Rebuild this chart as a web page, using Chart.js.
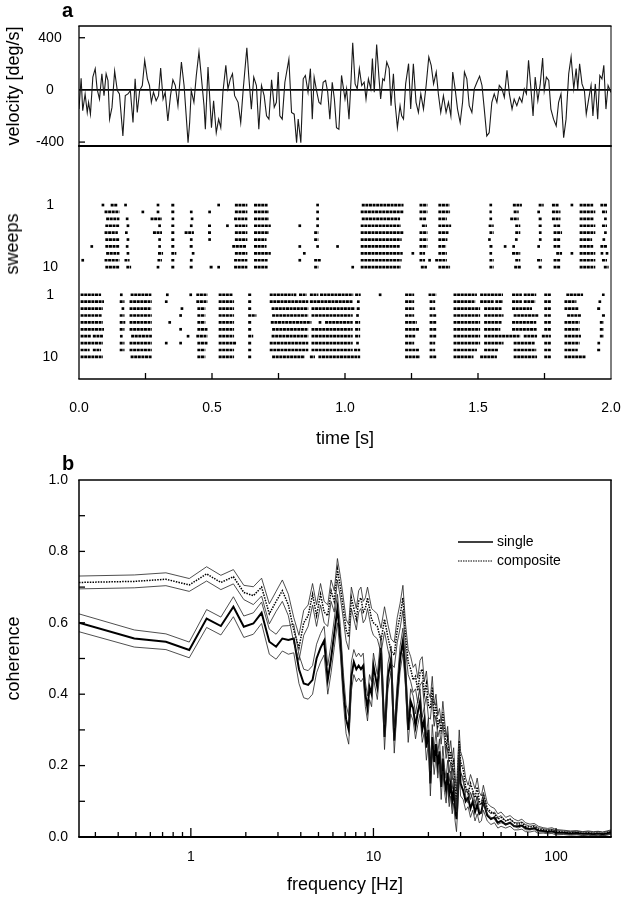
<!DOCTYPE html>
<html>
<head>
<meta charset="utf-8">
<script src="https://cdn.jsdelivr.net/npm/chart.js@4.4.1/dist/chart.umd.min.js"></script>
<style>
  html, body { margin: 0; padding: 0; background: #fff; }
  #fig { position: relative; width: 625px; height: 900px; overflow: hidden; }
  .panel { position: absolute; left: 0; width: 625px; }
  .tag { position: absolute; font: bold 20px/1 "Liberation Sans", Arial, sans-serif; color: #000; z-index: 2; }
  .ylab { position: absolute; font: 18px/1 "Liberation Sans", Arial, sans-serif; color: #000; white-space: nowrap;
          transform: translate(-50%, -50%) rotate(-90deg); z-index: 2; }
</style>
</head>
<body>
<div id="fig">
  <div class="tag" style="left:62px; top:0px;">a</div>
  <div class="tag" style="left:62px; top:453px;">b</div>
  <div class="panel" style="top:0; height:150px;"><canvas id="velocity"></canvas></div>
  <div class="panel" style="top:142px; height:308px;"><canvas id="raster"></canvas></div>
  <div class="panel" style="top:450px; height:450px;"><canvas id="coherence"></canvas></div>
  <div class="ylab" style="left:12px; top:244px;">sweeps</div>
</div>
<script>
// --- velocity trace (s, deg/s) ---
const velTime = [0.000,0.008,0.014,0.023,0.031,0.036,0.043,0.052,0.061,0.068,0.077,0.086,0.094,0.102,0.109,0.115,0.124,0.134,0.144,0.152,0.165,0.174,0.184,0.193,0.203,0.211,0.219,0.228,0.238,0.247,0.257,0.265,0.272,0.280,0.290,0.299,0.307,0.316,0.324,0.334,0.344,0.353,0.362,0.372,0.385,0.395,0.403,0.410,0.416,0.422,0.432,0.441,0.451,0.460,0.470,0.475,0.485,0.491,0.498,0.506,0.516,0.525,0.533,0.541,0.552,0.560,0.569,0.577,0.585,0.598,0.608,0.617,0.631,0.638,0.648,0.657,0.667,0.676,0.686,0.696,0.705,0.714,0.724,0.734,0.742,0.749,0.755,0.764,0.774,0.789,0.799,0.809,0.818,0.824,0.834,0.843,0.851,0.861,0.870,0.877,0.884,0.893,0.902,0.909,0.918,0.927,0.935,0.943,0.952,0.960,0.968,0.977,0.987,1.000,
  1.006,1.015,1.023,1.029,1.038,1.046,1.054,1.063,1.072,1.079,1.088,1.097,1.103,1.110,1.119,1.128,1.134,1.142,1.148,1.157,1.166,1.173,1.182,1.188,1.197,1.207,1.213,1.220,1.228,1.239,1.247,1.257,1.267,1.276,1.285,1.295,1.305,1.315,1.324,1.333,1.343,1.351,1.360,1.370,1.380,1.389,1.398,1.405,1.414,1.423,1.433,1.442,1.449,1.458,1.467,1.477,1.486,1.496,1.506,1.515,1.523,1.533,1.542,1.552,1.561,1.571,1.580,1.590,1.599,1.609,1.618,1.628,1.636,1.646,1.656,1.665,1.674,1.682,1.690,1.699,1.707,1.715,1.725,1.734,1.743,1.749,1.757,1.766,1.774,1.784,1.794,1.803,1.812,1.822,1.831,1.841,1.850,1.860,1.869,1.875,1.882,1.891,1.900,1.907,1.916,1.925,1.932,1.941,1.950,1.958,1.966,1.973,1.981,1.989,2.000];
const velValue = [-147,90,-160,-31,-173,-95,-186,98,163,8,-70,124,-44,124,72,-224,-134,144,-5,-31,-353,-44,-31,-5,-250,85,-173,-5,34,227,85,34,-95,-18,-83,-44,168,-70,-18,-237,-44,77,34,-121,214,34,-199,-405,-250,-5,-95,111,292,98,-121,-302,175,-44,-289,-83,-328,-224,-289,-18,188,8,85,124,-44,-95,-250,-5,323,111,-147,98,34,-302,34,-44,-199,-224,77,-134,-95,137,-199,-224,59,235,-173,-186,-405,-224,-405,85,111,-18,163,-224,98,-5,-95,-108,59,72,-18,-224,59,-70,-289,-302,111,-70,
  8,-224,85,361,46,8,163,34,59,-70,85,8,240,-18,348,85,-70,85,72,214,163,-121,124,-95,-289,-121,-199,-224,46,201,-147,201,-95,-173,-31,-147,34,253,188,46,137,-31,-173,-44,-173,-95,-199,137,8,-147,-250,-95,137,85,-121,-173,8,59,106,34,-134,-353,-328,-95,-31,-95,34,8,-57,150,-31,-147,-70,-121,-57,-95,8,-31,227,8,-199,98,-83,46,245,-5,98,72,-147,-224,-276,-95,-31,-366,-224,124,253,8,163,8,201,46,-5,-186,-70,34,-199,46,-224,111,85,188,-147,34,-20];
const velTickValues = [-400, 0, 400];
const velTickLabels = ['-400', '0', '400'];

// --- spike rasters: [start, end] of each burst in s, one list per sweep ---
const rasterTop = [
  [[0.090,0.090],[0.119,0.144],[0.175,0.175],[0.297,0.297],[0.347,0.360],[0.525,0.525],[0.586,0.633],[0.658,0.709],[0.897,0.897],[1.063,1.220],[1.280,1.310],[1.351,1.393],[1.548,1.548],[1.631,1.665],[1.728,1.747],[1.778,1.803],[1.853,1.853],[1.882,1.933],[1.960,1.985]],
  [[0.096,0.152],[0.240,0.240],[0.297,0.297],[0.347,0.360],[0.422,0.422],[0.491,0.491],[0.586,0.633],[0.658,0.714],[0.897,0.897],[1.059,1.220],[1.280,1.310],[1.351,1.395],[1.543,1.552],[1.634,1.653],[1.728,1.728],[1.778,1.810],[1.882,1.941],[1.966,1.985]],
  [[0.102,0.152],[0.181,0.181],[0.269,0.312],[0.353,0.353],[0.425,0.425],[0.583,0.633],[0.658,0.714],[0.897,0.897],[1.063,1.207],[1.280,1.305],[1.351,1.383],[1.548,1.548],[1.621,1.653],[1.728,1.740],[1.778,1.810],[1.882,1.935],[1.979,1.979]],
  [[0.099,0.152],[0.184,0.184],[0.303,0.303],[0.347,0.360],[0.422,0.422],[0.485,0.498],[0.558,0.558],[0.586,0.633],[0.658,0.721],[0.830,0.830],[0.897,0.897],[1.059,1.210],[1.289,1.308],[1.351,1.399],[1.540,1.559],[1.640,1.659],[1.728,1.740],[1.784,1.810],[1.882,1.941],[1.966,1.985]],
  [[0.096,0.146],[0.178,0.178],[0.278,0.312],[0.347,0.360],[0.397,0.432],[0.485,0.498],[0.586,0.633],[0.658,0.714],[0.884,0.900],[1.059,1.220],[1.280,1.310],[1.351,1.389],[1.543,1.559],[1.640,1.659],[1.734,1.734],[1.784,1.816],[1.882,1.941],[1.979,1.979]],
  [[0.099,0.152],[0.184,0.184],[0.303,0.303],[0.347,0.360],[0.422,0.422],[0.491,0.491],[0.586,0.633],[0.658,0.705],[0.884,0.900],[1.059,1.213],[1.280,1.310],[1.351,1.385],[1.543,1.543],[1.644,1.644],[1.734,1.734],[1.784,1.810],[1.882,1.929],[1.973,1.973]],
  [[0.048,0.048],[0.099,0.152],[0.181,0.181],[0.303,0.303],[0.347,0.360],[0.416,0.429],[0.576,0.630],[0.658,0.705],[0.830,0.830],[0.897,0.897],[0.972,0.972],[1.059,1.207],[1.280,1.310],[1.351,1.380],[1.543,1.556],[1.602,1.602],[1.634,1.634],[1.728,1.728],[1.784,1.810],[1.882,1.933],[1.960,1.985]],
  [[0.102,0.152],[0.184,0.184],[0.297,0.316],[0.347,0.366],[0.429,0.429],[0.586,0.633],[0.658,0.721],[0.847,0.847],[1.059,1.217],[1.255,1.255],[1.280,1.301],[1.351,1.383],[1.548,1.548],[1.628,1.659],[1.794,1.816],[1.853,1.853],[1.882,1.941],[1.966,1.966],[1.985,1.985]],
  [[0.014,0.014],[0.096,0.152],[0.171,0.190],[0.295,0.312],[0.347,0.360],[0.422,0.422],[0.583,0.633],[0.658,0.709],[0.830,0.830],[0.884,0.910],[1.059,1.213],[1.280,1.301],[1.318,1.318],[1.339,1.383],[1.543,1.559],[1.640,1.659],[1.722,1.740],[1.784,1.810],[1.882,1.941],[1.966,1.985]],
  [[0.099,0.152],[0.178,0.196],[0.297,0.297],[0.347,0.360],[0.416,0.429],[0.491,0.504],[0.525,0.525],[0.583,0.633],[0.658,0.709],[0.884,0.900],[1.029,1.029],[1.059,1.210],[1.285,1.308],[1.351,1.395],[1.543,1.559],[1.636,1.661],[1.728,1.740],[1.784,1.810],[1.882,1.941],[1.973,1.991]]
];
const rasterBottom = [
  [[0.006,0.083],[0.159,0.159],[0.194,0.272],[0.332,0.332],[0.420,0.420],[0.441,0.483],[0.525,0.579],[0.636,0.648],[0.717,0.805],[0.812,0.812],[0.827,0.856],[0.868,0.900],[0.906,1.031],[1.038,1.059],[1.132,1.132],[1.226,1.260],[1.314,1.343],[1.408,1.496],[1.508,1.594],[1.628,1.665],[1.672,1.719],[1.749,1.774],[1.832,1.895],[1.966,1.976]],
  [[0.006,0.094],[0.153,0.171],[0.190,0.274],[0.328,0.328],[0.441,0.483],[0.525,0.583],[0.636,0.648],[0.717,0.862],[0.868,1.029],[1.050,1.050],[1.226,1.260],[1.318,1.339],[1.408,1.490],[1.508,1.559],[1.565,1.594],[1.628,1.665],[1.672,1.715],[1.749,1.774],[1.825,1.870],[1.958,1.958]],
  [[0.006,0.090],[0.165,0.165],[0.190,0.272],[0.387,0.387],[0.445,0.475],[0.525,0.583],[0.636,0.648],[0.724,0.862],[0.874,1.038],[1.044,1.057],[1.226,1.260],[1.318,1.339],[1.408,1.508],[1.523,1.590],[1.628,1.703],[1.749,1.774],[1.825,1.879],[1.948,1.960]],
  [[0.006,0.086],[0.153,0.171],[0.190,0.274],[0.382,0.382],[0.445,0.475],[0.525,0.583],[0.636,0.667],[0.726,0.862],[0.874,1.029],[1.047,1.047],[1.226,1.260],[1.318,1.343],[1.408,1.508],[1.523,1.596],[1.634,1.728],[1.749,1.774],[1.835,1.887],[1.966,1.979]],
  [[0.006,0.090],[0.153,0.174],[0.190,0.274],[0.341,0.341],[0.445,0.475],[0.525,0.583],[0.636,0.648],[0.721,0.874],[0.906,0.906],[0.925,1.029],[1.038,1.057],[1.226,1.270],[1.318,1.343],[1.408,1.508],[1.523,1.590],[1.628,1.719],[1.749,1.774],[1.825,1.882],[1.958,1.973]],
  [[0.006,0.094],[0.153,0.171],[0.190,0.274],[0.382,0.382],[0.445,0.483],[0.525,0.583],[0.636,0.648],[0.726,0.862],[0.874,1.029],[1.038,1.057],[1.226,1.280],[1.318,1.343],[1.408,1.508],[1.523,1.584],[1.628,1.722],[1.749,1.774],[1.825,1.882],[1.958,1.973]],
  [[0.006,0.046],[0.052,0.090],[0.159,0.159],[0.196,0.274],[0.410,0.410],[0.441,0.483],[0.525,0.583],[0.636,0.655],[0.724,0.862],[0.874,1.029],[1.038,1.057],[1.226,1.264],[1.318,1.343],[1.408,1.508],[1.523,1.659],[1.672,1.722],[1.740,1.774],[1.825,1.887],[1.958,1.973]],
  [[0.006,0.090],[0.153,0.171],[0.190,0.274],[0.328,0.328],[0.382,0.382],[0.445,0.483],[0.525,0.592],[0.636,0.648],[0.717,0.862],[0.874,1.029],[1.047,1.047],[1.226,1.260],[1.318,1.339],[1.408,1.508],[1.523,1.596],[1.634,1.715],[1.749,1.774],[1.825,1.882],[1.954,1.954]],
  [[0.006,0.040],[0.052,0.083],[0.153,0.171],[0.190,0.274],[0.445,0.475],[0.525,0.583],[0.636,0.648],[0.717,0.862],[0.874,1.029],[1.034,1.057],[1.226,1.280],[1.318,1.339],[1.408,1.496],[1.523,1.577],[1.634,1.719],[1.749,1.774],[1.825,1.875],[1.948,1.960]],
  [[0.006,0.090],[0.194,0.274],[0.445,0.475],[0.525,0.583],[0.636,0.648],[0.726,0.849],[0.868,0.887],[0.900,1.057],[1.226,1.282],[1.318,1.343],[1.408,1.483],[1.508,1.571],[1.634,1.722],[1.749,1.774],[1.825,1.904]]
];
const rasterTopFirstRow = 1;
const rasterBottomFirstRow = 14;
const rasterTickValues = [1, 10, 14, 23];
const rasterTickLabels = ['1', '10', '1', '10'];
const timeTickValues = [0, 0.5, 1, 1.5, 2];
const timeMinorTicks = [0.25, 0.5, 0.75, 1, 1.25, 1.5, 1.75];

// --- coherence (b) ---
const freqHz = [0.244,0.49,0.73,0.98,1.22,1.46,1.71,1.95,2.20,2.44,2.69,2.93,3.17,3.42,3.66,3.91,4.15,4.39,4.64,4.88,5.13,5.37,5.62,5.86,6.10,6.35,6.59,6.84,7.08,7.32,7.57,7.81,8.06,8.30,8.54,8.79,9.03,9.28,9.52,9.77,10.0,
  10.5,11,11.5,12,12.5,13,13.5,14,14.5,15,15.5,16,16.5,17,17.5,18,18.5,19,19.5,20,20.5,21,21.5,22,22.5,23,23.5,24,24.5,25,25.5,26,26.5,27,27.5,28,28.5,29,29.5,30,
  31,32,33,34,35,36,37,38,39,40,42,44,46,48,50,53,56,59,62,65,68,72,76,80,85,90,95,100,110,120,130,140,150,160,170,180,190,200];
const compositeMean = [0.713,0.716,0.722,0.706,0.737,0.713,0.729,0.685,0.676,0.700,0.625,0.660,0.690,0.650,0.580,0.530,0.600,0.620,0.680,0.620,0.680,0.630,0.620,0.690,0.660,0.750,0.700,0.640,0.580,0.560,0.670,0.640,0.610,0.660,0.670,0.630,0.640,0.670,0.640,0.610,0.600,
  0.59,0.55,0.61,0.56,0.52,0.51,0.58,0.62,0.67,0.56,0.49,0.47,0.44,0.45,0.41,0.46,0.47,0.40,0.43,0.37,0.36,0.42,0.34,0.37,0.31,0.33,0.29,0.35,0.30,0.25,0.28,0.21,0.24,0.19,0.22,0.14,0.10,0.19,0.27,0.21,
  0.19,0.14,0.12,0.15,0.13,0.11,0.14,0.10,0.09,0.12,0.08,0.07,0.065,0.05,0.055,0.045,0.05,0.04,0.035,0.04,0.03,0.028,0.03,0.022,0.02,0.018,0.02,0.015,0.014,0.012,0.013,0.010,0.012,0.010,0.011,0.009,0.012,0.015];
const compositeSem = [0.018,0.018,0.018,0.018,0.02,0.02,0.02,0.02,0.025,0.025,0.028,0.028,0.03,0.03,0.035,0.035,0.035,0.03,0.03,0.03,0.03,0.03,0.03,0.03,0.03,0.03,0.03,0.03,0.03,0.035,0.03,0.03,0.03,0.03,0.03,0.03,0.03,0.03,0.03,0.03,0.035,
  0.035,0.035,0.035,0.035,0.035,0.035,0.035,0.035,0.035,0.035,0.035,0.035,0.035,0.035,0.035,0.035,0.035,0.035,0.035,0.035,0.03,0.03,0.03,0.03,0.03,0.03,0.03,0.03,0.03,0.03,0.03,0.03,0.03,0.03,0.03,0.03,0.03,0.03,0.03,0.03,
  0.025,0.025,0.025,0.025,0.025,0.025,0.025,0.025,0.025,0.025,0.015,0.015,0.015,0.015,0.015,0.01,0.01,0.01,0.01,0.01,0.01,0.008,0.008,0.008,0.006,0.006,0.006,0.006,0.005,0.005,0.005,0.005,0.005,0.005,0.005,0.005,0.005,0.005];
const singleMean = [0.600,0.556,0.547,0.524,0.612,0.591,0.645,0.589,0.598,0.628,0.547,0.533,0.556,0.552,0.556,0.470,0.430,0.426,0.440,0.500,0.530,0.550,0.440,0.500,0.570,0.640,0.550,0.420,0.330,0.300,0.450,0.490,0.470,0.480,0.470,0.480,0.400,0.360,0.420,0.400,0.480,
  0.42,0.53,0.28,0.45,0.50,0.27,0.40,0.50,0.55,0.45,0.30,0.38,0.36,0.31,0.35,0.38,0.30,0.33,0.25,0.30,0.15,0.28,0.21,0.26,0.20,0.24,0.14,0.22,0.16,0.13,0.18,0.12,0.15,0.10,0.13,0.08,0.05,0.12,0.22,0.15,
  0.13,0.10,0.11,0.08,0.10,0.07,0.09,0.065,0.07,0.10,0.06,0.05,0.055,0.04,0.045,0.035,0.04,0.03,0.03,0.032,0.025,0.022,0.025,0.018,0.017,0.015,0.016,0.012,0.012,0.010,0.011,0.009,0.010,0.008,0.010,0.008,0.010,0.013];
const singleSem = [0.025,0.024,0.022,0.022,0.025,0.025,0.028,0.03,0.03,0.03,0.035,0.035,0.035,0.04,0.04,0.04,0.04,0.04,0.04,0.04,0.04,0.04,0.04,0.04,0.04,0.04,0.04,0.04,0.04,0.04,0.04,0.035,0.035,0.035,0.035,0.035,0.035,0.035,0.035,0.035,0.035,
  0.035,0.035,0.035,0.035,0.035,0.035,0.035,0.035,0.035,0.035,0.035,0.035,0.035,0.035,0.035,0.035,0.035,0.035,0.035,0.035,0.035,0.035,0.035,0.035,0.035,0.035,0.035,0.035,0.035,0.035,0.035,0.035,0.035,0.035,0.035,0.035,0.035,0.035,0.035,0.035,
  0.025,0.025,0.025,0.025,0.025,0.025,0.025,0.025,0.025,0.025,0.015,0.015,0.015,0.015,0.015,0.01,0.01,0.01,0.01,0.01,0.01,0.008,0.008,0.008,0.006,0.006,0.006,0.006,0.005,0.005,0.005,0.005,0.005,0.005,0.005,0.005,0.005,0.005];
const freqLabelTicks = [1, 10, 100];
const freqMinorTicks = [0.3,0.4,0.5,0.6,0.7,0.8,0.9,2,3,4,5,6,7,8,9,20,30,40,50,60,70,80,90];
const cohTickValues = [0, 0.2, 0.4, 0.6, 0.8, 1.0];
const cohMinorTicks = [0.1, 0.2, 0.3, 0.4, 0.5, 0.6, 0.7, 0.8, 0.9];
const legendLabels = ['single', 'composite'];

Chart.defaults.font.family = '"Liberation Sans", Arial, Helvetica, sans-serif';
Chart.defaults.color = '#000';
Chart.defaults.animation = false;

const TICK_FONT = { size: 14 };
const TITLE_FONT = { size: 18 };

// frame + inward tick marks, positions come from the chart scales
const frame = {
  id: 'frame',
  afterDatasetsDraw(chart, args, opts) {
    const { ctx, chartArea: a, scales } = chart;
    const seg = (w, x1, y1, x2, y2) => {
      if (!w) return;
      ctx.lineWidth = w;
      ctx.beginPath(); ctx.moveTo(x1, y1); ctx.lineTo(x2, y2); ctx.stroke();
    };
    ctx.save();
    ctx.strokeStyle = '#000';
    const b = opts.borders;
    seg(b[0], a.left - b[3] / 2, a.top, a.right + b[1] / 2, a.top);
    seg(b[1], a.right, a.top, a.right, a.bottom);
    seg(b[2], a.left - b[3] / 2, a.bottom, a.right + b[1] / 2, a.bottom);
    seg(b[3], a.left, a.top, a.left, a.bottom);
    (opts.xTicks || []).forEach(t => {
      const px = scales.x.getPixelForValue(t.v);
      seg(1.3, px, a.bottom, px, a.bottom - t.len);
    });
    (opts.yTicks || []).forEach(t => {
      const py = scales.y.getPixelForValue(t.v);
      seg(1.3, a.left, py, a.left + t.len, py);
    });
    ctx.restore();
  }
};

// legend drawn inside the coherence panel
const lineLegend = {
  id: 'lineLegend',
  afterDraw(chart, args, opts) {
    const { ctx } = chart;
    ctx.save();
    ctx.font = '14px "Liberation Sans", Arial, sans-serif';
    ctx.fillStyle = '#000';
    ctx.textBaseline = 'middle';
    opts.items.forEach((it, i) => {
      const y = opts.y + i * opts.gap;
      ctx.strokeStyle = '#000';
      ctx.lineWidth = it.width;
      ctx.setLineDash(it.dash);
      ctx.beginPath(); ctx.moveTo(opts.x, y); ctx.lineTo(opts.x + opts.len, y); ctx.stroke();
      ctx.setLineDash([]);
      ctx.fillText(it.label, opts.x + opts.len + 4, y);
    });
    ctx.restore();
  }
};

const noGrid = { display: false, drawTicks: false };
const noBorder = { display: false };
// fixed axis sizes, and no extra room reserved for the end labels
const leftAxis = s => { s.width = 79; s.paddingTop = 0; s.paddingBottom = 0; };
const bottomAxis = h => s => { s.height = h; s.paddingLeft = 0; s.paddingRight = 0; };

// ---------- panel a: velocity ----------
new Chart(document.getElementById('velocity'), {
  type: 'scatter',
  data: {
    datasets: [
      { data: velTime.map((t, i) => ({ x: t, y: velValue[i] })), showLine: true, borderColor: '#1a1a1a', borderWidth: 1.1, pointRadius: 0 },
      { data: [{ x: 0, y: 0 }, { x: 2, y: 0 }], showLine: true, borderColor: '#000', borderWidth: 1.6, pointRadius: 0 }
    ]
  },
  options: {
    responsive: true, maintainAspectRatio: false,
    layout: { padding: { top: 26, right: 14, bottom: 4, left: 0 } },
    plugins: {
      legend: { display: false }, tooltip: { enabled: false },
      frame: { borders: [1.5, 1, 2.2, 1.3], yTicks: [{ v: 400, len: 6 }, { v: -400, len: 6 }] }
    },
    scales: {
      x: { type: 'linear', min: 0, max: 2, display: false },
      y: {
        min: -430, max: 490,
        afterFit: leftAxis,
        afterBuildTicks: s => { s.ticks = velTickValues.map(v => ({ value: v })); },
        grid: noGrid, border: noBorder,
        ticks: { crossAlign: 'center', padding: 15, font: TICK_FONT, callback: (v, i) => velTickLabels[i] },
        title: { display: true, text: 'velocity [deg/s]', font: TITLE_FONT, padding: { top: 3, bottom: 0 } }
      }
    }
  },
  plugins: [frame]
});

// ---------- panel a: rasters ----------
function rasterPoints(rows, firstRow) {
  const pts = [];
  rows.forEach((bursts, i) => {
    const y = firstRow + i;
    bursts.forEach(([t0, t1]) => {
      pts.push({ x: t0, y: y, dot: t0 === t1 });
      if (t1 !== t0) pts.push({ x: t1, y: y });
      pts.push({ x: t1, y: null });
    });
  });
  return pts;
}
const rasterStyle = {
  showLine: true, spanGaps: false, borderColor: '#000', borderWidth: 2.7, borderDash: [3, 0.6],
  pointStyle: 'rect', backgroundColor: '#000', borderCapStyle: 'butt',
  pointRadius: c => (c.raw && c.raw.dot ? 1.9 : 0), pointBorderWidth: 0
};
new Chart(document.getElementById('raster'), {
  type: 'scatter',
  data: {
    datasets: [
      Object.assign({ data: rasterPoints(rasterTop, rasterTopFirstRow) }, rasterStyle),
      Object.assign({ data: rasterPoints(rasterBottom, rasterBottomFirstRow) }, rasterStyle)
    ]
  },
  options: {
    responsive: true, maintainAspectRatio: false,
    layout: { padding: { top: 0, right: 14, bottom: 0, left: 0 } },
    plugins: {
      legend: { display: false }, tooltip: { enabled: false },
      frame: { borders: [2.2, 1, 1.6, 1.3], xTicks: timeMinorTicks.map(v => ({ v, len: 6 })) }
    },
    scales: {
      x: {
        type: 'linear', min: 0, max: 2,
        afterFit: bottomAxis(71),
        afterBuildTicks: s => { s.ticks = timeTickValues.map(v => ({ value: v })); },
        grid: noGrid, border: noBorder,
        ticks: { padding: 21, font: TICK_FONT, callback: v => v.toFixed(1), maxRotation: 0 },
        title: { display: true, text: 'time [s]', font: TITLE_FONT, padding: { top: 0, bottom: 0 } }
      },
      y: {
        reverse: true, min: -7.55, max: 26.2,
        afterFit: leftAxis,
        afterBuildTicks: s => { s.ticks = rasterTickValues.map(v => ({ value: v })); },
        grid: noGrid, border: noBorder,
        ticks: { crossAlign: 'center', padding: 21, font: TICK_FONT, callback: (v, i) => rasterTickLabels[i] },
        title: { display: false }
      }
    }
  },
  plugins: [frame]
});

// ---------- panel b: coherence ----------
const band = (mean, sem, sign) => freqHz.map((f, i) => ({ x: f, y: mean[i] + sign * sem[i] }));
const thin = { showLine: true, borderColor: '#222', borderWidth: 0.8, pointRadius: 0 };
new Chart(document.getElementById('coherence'), {
  type: 'scatter',
  data: {
    datasets: [
      Object.assign({ data: band(compositeMean, compositeSem, 1) }, thin),
      Object.assign({ data: band(compositeMean, compositeSem, -1) }, thin),
      Object.assign({ data: band(singleMean, singleSem, 1) }, thin),
      Object.assign({ data: band(singleMean, singleSem, -1) }, thin),
      { data: freqHz.map((f, i) => ({ x: f, y: compositeMean[i] })), showLine: true, borderColor: '#000', borderWidth: 1.5, borderDash: [1.5, 1.2], pointRadius: 0 },
      { data: freqHz.map((f, i) => ({ x: f, y: singleMean[i] })), showLine: true, borderColor: '#000', borderWidth: 2, pointRadius: 0 }
    ]
  },
  options: {
    responsive: true, maintainAspectRatio: false,
    layout: { padding: { top: 30, right: 14, bottom: 0, left: 0 } },
    plugins: {
      legend: { display: false }, tooltip: { enabled: false },
      frame: {
        borders: [1.5, 1.5, 2, 1.5],
        xTicks: freqLabelTicks.map(v => ({ v, len: 9 })).concat(freqMinorTicks.map(v => ({ v, len: 5 }))),
        yTicks: cohMinorTicks.map(v => ({ v, len: 6 }))
      },
      lineLegend: {
        x: 458, y: 92, gap: 19, len: 35,
        items: [
          { label: legendLabels[0], width: 1.6, dash: [] },
          { label: legendLabels[1], width: 1.2, dash: [1.5, 1] }
        ]
      }
    },
    scales: {
      x: {
        type: 'logarithmic', min: 0.244, max: 200,
        afterFit: bottomAxis(63),
        afterBuildTicks: s => { s.ticks = freqLabelTicks.map(v => ({ value: v })); },
        grid: noGrid, border: noBorder,
        ticks: { padding: 12, font: TICK_FONT, callback: v => String(v), maxRotation: 0 },
        title: { display: true, text: 'frequency [Hz]', font: TITLE_FONT, padding: { top: 0, bottom: 4 } }
      },
      y: {
        min: 0, max: 1,
        afterFit: leftAxis,
        afterBuildTicks: s => { s.ticks = cohTickValues.map(v => ({ value: v })); },
        grid: noGrid, border: noBorder,
        ticks: { padding: 11, font: TICK_FONT, callback: v => v.toFixed(1) },
        title: { display: true, text: 'coherence', font: TITLE_FONT, padding: { top: 3, bottom: 0 } }
      }
    }
  },
  plugins: [frame, lineLegend]
});
</script>
</body>
</html>
